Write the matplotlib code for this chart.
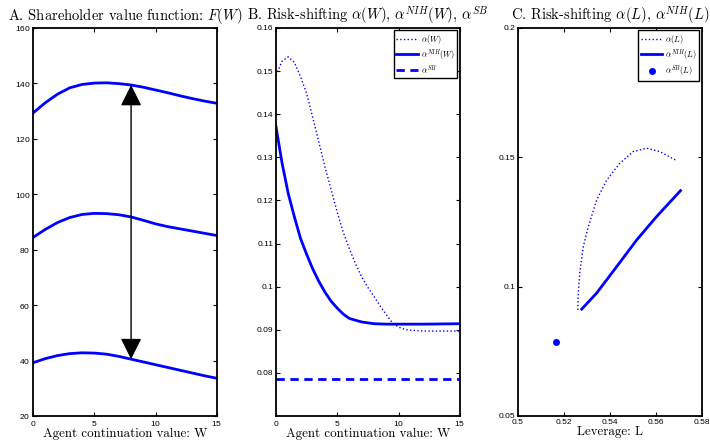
import numpy as np
import matplotlib
matplotlib.use('Agg')
import matplotlib.pyplot as plt
from matplotlib.patches import FancyArrowPatch

plt.rcParams['mathtext.fontset'] = 'cm'
plt.rcParams['axes.formatter.use_mathtext'] = True

# Panel A: shareholder value function F(W), three curves
W_a = [0, 1, 2, 3, 4, 5, 6, 7, 8, 9, 10, 11, 12, 13, 14, 15]
F_top = [129.3, 133.0, 136.1, 138.4, 139.6, 140.1, 140.2, 139.9, 139.4, 138.6, 137.6, 136.6, 135.5, 134.5, 133.6, 132.8]
F_mid = [84.4, 87.3, 89.8, 91.6, 92.7, 93.1, 93.0, 92.6, 91.8, 90.6, 89.3, 88.3, 87.5, 86.7, 85.9, 85.1]
F_bot = [39.2, 40.7, 41.8, 42.5, 42.8, 42.7, 42.3, 41.5, 40.5, 39.5, 38.5, 37.5, 36.5, 35.5, 34.5, 33.6]
arrow_W = 8

# Panel B: risk-shifting vs W
W_alpha = [0, 0.5, 1, 1.5, 2, 2.5, 3, 3.5, 4, 4.5, 5, 5.5, 6, 6.5, 7, 7.5, 8, 8.5, 9, 9.5, 10, 10.5, 11, 12, 13, 14, 15]
alpha_W = [0.1490, 0.1523, 0.1533, 0.1520, 0.1487, 0.1448, 0.1392, 0.1335, 0.1277, 0.1225, 0.1172, 0.1125, 0.1087,
           0.1052, 0.1022, 0.0998, 0.0977, 0.0955, 0.0935, 0.0916, 0.0906, 0.0901, 0.0899, 0.0897, 0.0897, 0.0897, 0.0897]
W_nih = [0, 0.5, 1, 1.5, 2, 2.5, 3, 3.5, 4, 4.5, 5, 5.5, 6, 7, 8, 9, 10, 12, 15]
alpha_nih_W = [0.1371, 0.1286, 0.1216, 0.1162, 0.1112, 0.1075, 0.1041, 0.1012, 0.0987, 0.0966, 0.0950, 0.0936,
               0.0926, 0.0918, 0.0914, 0.0913, 0.0913, 0.0913, 0.0914]
W_sb = [0, 15]
alpha_sb = 0.0785

# Panel C: risk-shifting vs leverage L
L_alpha = [0.5260, 0.5262, 0.5270, 0.5284, 0.5306, 0.5342, 0.5386, 0.5443, 0.5501, 0.5560, 0.5617, 0.5690]
alpha_L = [0.0910, 0.0974, 0.1065, 0.1155, 0.1232, 0.1335, 0.1412, 0.1477, 0.1522, 0.1535, 0.1522, 0.1487]
L_nih = [0.5277, 0.5342, 0.5429, 0.5516, 0.5603, 0.5707]
alpha_nih_L = [0.0913, 0.0975, 0.1077, 0.1180, 0.1271, 0.1371]
L_sb = 0.5164
alpha_sb_L = 0.0787

title_font = {'family': 'cmr10', 'size': 10.5}
label_font = {'family': 'cmr10', 'size': 9.3}
tick_font = 'Liberation Sans'


def style_axes(ax):
    for sp in ax.spines.values():
        sp.set_linewidth(1.3)
    ax.tick_params(direction='in', top=True, right=True, length=3, width=0.8, labelsize=6, pad=2)
    for lab in ax.get_xticklabels() + ax.get_yticklabels():
        lab.set_family(tick_font)


fig = plt.figure(figsize=(7.1, 4.41), dpi=100)
axA = fig.add_axes([0.0465, 0.0567, 0.259, 0.880])
axB = fig.add_axes([0.3887, 0.0567, 0.259, 0.880])
axC = fig.add_axes([0.7296, 0.0567, 0.259, 0.880])

# --- Panel A
for F in (F_top, F_mid, F_bot):
    axA.plot(W_a, F, color='blue', lw=2.0)
i = W_a.index(arrow_W)
arrow = FancyArrowPatch(posA=(arrow_W, F_bot[i]), posB=(arrow_W, F_top[i]),
                        arrowstyle='<|-|>,head_length=1.0,head_width=0.5', mutation_scale=13,
                        color='black', lw=1.0, shrinkA=0, shrinkB=0, transform=axA.transData, zorder=3)
axA.add_patch(arrow)
axA.set_xlim(0, 15)
axA.set_ylim(20, 160)
axA.set_xticks([0, 5, 10, 15])
axA.set_yticks(np.arange(20, 161, 20))
axA.set_title('A. Shareholder value function: $F(W)$', fontdict=title_font, pad=6)
axA.set_xlabel('Agent continuation value: W', fontdict=label_font, labelpad=0)
style_axes(axA)

# --- Panel B
axB.plot(W_alpha, alpha_W, color='blue', lw=1.0, ls=':', label=r'$\alpha(W)$')
axB.plot(W_nih, alpha_nih_W, color='blue', lw=2.0, label=r'$\alpha^{NIH}(W)$')
axB.plot(W_sb, [alpha_sb] * len(W_sb), color='blue', lw=2.0, ls=(0, (3, 2)), label=r'$\alpha^{SB}$')
axB.set_xlim(0, 15)
axB.set_ylim(0.07, 0.16)
axB.set_xticks([0, 5, 10, 15])
axB.set_yticks([0.08, 0.09, 0.1, 0.11, 0.12, 0.13, 0.14, 0.15, 0.16])
axB.set_yticklabels(['0.08', '0.09', '0.1', '0.11', '0.12', '0.13', '0.14', '0.15', '0.16'])
axB.set_title(r'B. Risk-shifting $\alpha(W)$, $\alpha^{NIH}(W)$, $\alpha^{SB}$', fontdict=title_font, pad=6)
axB.set_xlabel('Agent continuation value: W', fontdict=label_font, labelpad=0)
legB = axB.legend(loc='upper right', fontsize=6, fancybox=False, edgecolor='black', framealpha=1,
                  handlelength=2.6, borderpad=0.3, labelspacing=0.15, handletextpad=0.3, borderaxespad=0.3)
legB.get_frame().set_linewidth(1.0)
style_axes(axB)

# --- Panel C
axC.plot(L_alpha, alpha_L, color='blue', lw=1.0, ls=':', label=r'$\alpha(L)$')
axC.plot(L_nih, alpha_nih_L, color='blue', lw=2.0, label=r'$\alpha^{NIH}(L)$')
axC.plot([L_sb], [alpha_sb_L], 'o', color='blue', ms=4, label=r'$\alpha^{SB}(L)$')
axC.set_xlim(0.5, 0.58)
axC.set_ylim(0.05, 0.2)
axC.set_xticks([0.5, 0.52, 0.54, 0.56, 0.58])
axC.set_xticklabels(['0.5', '0.52', '0.54', '0.56', '0.58'])
axC.set_yticks([0.05, 0.1, 0.15, 0.2])
axC.set_yticklabels(['0.05', '0.1', '0.15', '0.2'])
axC.set_title(r'C. Risk-shifting $\alpha(L)$, $\alpha^{NIH}(L)$', fontdict=title_font, pad=6)
axC.set_xlabel('Leverage: L', fontdict=label_font, labelpad=0)
legC = axC.legend(loc='upper right', fontsize=6, fancybox=False, edgecolor='black', framealpha=1,
                  handlelength=2.6, borderpad=0.3, labelspacing=0.15, handletextpad=0.3, borderaxespad=0.3)
legC.get_frame().set_linewidth(1.0)
style_axes(axC)

fig.savefig('out.png', dpi=100)
